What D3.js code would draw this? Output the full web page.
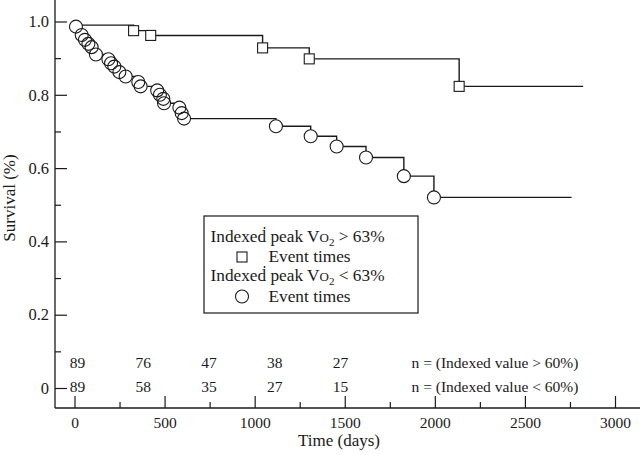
<!DOCTYPE html>
<html>
<head>
<meta charset="utf-8">
<script src="https://cdn.jsdelivr.net/npm/d3@7/dist/d3.min.js"></script>
<style>
  body { margin: 0; background: #fff; }
  svg { display: block; }
  svg text { font-family: "Liberation Serif", "Times New Roman", serif; fill: #1a1a1a; }
</style>
</head>
<body>
<script>
const WIDTH = 640;
const HEIGHT = 455;
const INK = "#1a1a1a";

// Indexed peak VO2 > 63%
const highStart = 0.99;
const highTimes = [328, 423, 1044, 1303, 2135];
const highSurv = [0.975, 0.962, 0.928, 0.898, 0.823];
const highEnd = 2823;

// Indexed peak VO2 < 63%
const lowStart = 1.0;
const lowTimes = [8, 40, 58, 77, 95, 119, 188, 203, 221, 249, 284, 354, 367, 459, 474, 493, 497, 582, 595, 608, 1118, 1311, 1455, 1618, 1828, 1995];
const lowSurv = [0.986, 0.963, 0.95, 0.939, 0.93, 0.91, 0.897, 0.886, 0.877, 0.862, 0.85, 0.835, 0.823, 0.812, 0.8, 0.789, 0.777, 0.765, 0.75, 0.735, 0.714, 0.687, 0.659, 0.629, 0.578, 0.52];
const lowEnd = 2759;

// numbers at risk
const atRiskTimes = [0, 365, 730, 1095, 1460];
const atRiskHigh = [89, 76, 47, 38, 27];
const atRiskLow = [89, 58, 35, 27, 15];

const xTicks = [0, 500, 1000, 1500, 2000, 2500, 3000];
const xMinor = [250, 750, 1250, 1750, 2250, 2750];
const yTicks = [0, 0.2, 0.4, 0.6, 0.8, 1.0];
const yTickLabels = ["0", "0.2", "0.4", "0.6", "0.8", "1.0"];
const yMinor = [0.1, 0.3, 0.5, 0.7, 0.9];

const svg = d3.select("body").append("svg")
  .attr("width", WIDTH)
  .attr("height", HEIGHT);

const x = d3.scaleLinear().domain([0, 3000]).range([74.5, 615]);
const y = d3.scaleLinear().domain([0, 1]).range([388, 21.5]);

const AXIS_X = 55;
const AXIS_Y = 408;

// axis lines
svg.append("line")
  .attr("x1", AXIS_X).attr("x2", AXIS_X)
  .attr("y1", 0).attr("y2", AXIS_Y)
  .attr("stroke", INK).attr("stroke-width", 1.3);
svg.append("line")
  .attr("x1", AXIS_X).attr("x2", WIDTH)
  .attr("y1", AXIS_Y).attr("y2", AXIS_Y)
  .attr("stroke", INK).attr("stroke-width", 1.3);

const styleAxis = (g) => {
  g.attr("font-family", null).attr("font-size", null);
  g.select(".domain").remove();
  g.selectAll("line").attr("stroke", INK).attr("stroke-width", 1.2);
  g.selectAll("text").attr("fill", INK);
};

// x axis
svg.append("g")
  .attr("transform", `translate(0,${AXIS_Y})`)
  .call(d3.axisBottom(x).tickValues(xTicks).tickSize(-12).tickPadding(8.5).tickFormat(d3.format("d")))
  .call(styleAxis)
  .call((g) => g.selectAll("text").attr("font-size", 15.5));
svg.append("g")
  .attr("transform", `translate(0,${AXIS_Y})`)
  .call(d3.axisBottom(x).tickValues(xMinor).tickSize(-6).tickFormat(""))
  .call(styleAxis);

// y axis
svg.append("g")
  .attr("transform", `translate(${AXIS_X},0)`)
  .call(d3.axisLeft(y).tickValues(yTicks).tickSize(-12).tickPadding(6)
    .tickFormat((d, i) => yTickLabels[i]))
  .call(styleAxis)
  .call((g) => g.selectAll("text").attr("font-size", 16.5));
svg.append("g")
  .attr("transform", `translate(${AXIS_X},0)`)
  .call(d3.axisLeft(y).tickValues(yMinor).tickSize(-6).tickFormat(""))
  .call(styleAxis);

// axis titles
svg.append("text")
  .attr("x", 339).attr("y", 446)
  .attr("text-anchor", "middle")
  .attr("font-size", 17)
  .text("Time (days)");
svg.append("text")
  .attr("transform", "translate(15,198) rotate(-90)")
  .attr("text-anchor", "middle")
  .attr("font-size", 17)
  .text("Survival (%)");

// survival curves
const toSteps = (start, times, surv, end) => {
  const pts = [{ t: 0, s: start }];
  times.forEach((t, i) => pts.push({ t, s: surv[i] }));
  pts.push({ t: end, s: surv[surv.length - 1] });
  return pts;
};

const stepLine = d3.line()
  .x((d) => x(d.t))
  .y((d) => y(d.s))
  .curve(d3.curveStepAfter);

const highData = toSteps(highStart, highTimes, highSurv, highEnd);
const lowData = toSteps(lowStart, lowTimes, lowSurv, lowEnd);

[highData, lowData].forEach((d) => {
  svg.append("path")
    .datum(d)
    .attr("d", stepLine)
    .attr("fill", "none")
    .attr("stroke", INK)
    .attr("stroke-width", 1.4);
});

const lowEvents = lowTimes.map((t, i) => ({ t, s: lowSurv[i] }));
const highEvents = highTimes.map((t, i) => ({ t, s: highSurv[i] }));

const CIRCLE_R = 6.5;
const SQ = 10;

// white backgrounds first, then outlines so overlapping rings stay visible
const marks = svg.append("g");
marks.selectAll(".cbg").data(lowEvents).enter().append("circle")
  .attr("cx", (d) => x(d.t)).attr("cy", (d) => y(d.s)).attr("r", CIRCLE_R)
  .attr("fill", "#fff");
marks.selectAll(".sbg").data(highEvents).enter().append("rect")
  .attr("x", (d) => x(d.t) - SQ / 2).attr("y", (d) => y(d.s) - SQ / 2)
  .attr("width", SQ).attr("height", SQ)
  .attr("fill", "#fff");
marks.selectAll(".cfg").data(lowEvents).enter().append("circle")
  .attr("cx", (d) => x(d.t)).attr("cy", (d) => y(d.s)).attr("r", CIRCLE_R)
  .attr("fill", "none").attr("stroke", INK).attr("stroke-width", 1.1);
marks.selectAll(".sfg").data(highEvents).enter().append("rect")
  .attr("x", (d) => x(d.t) - SQ / 2).attr("y", (d) => y(d.s) - SQ / 2)
  .attr("width", SQ).attr("height", SQ)
  .attr("fill", "none").attr("stroke", INK).attr("stroke-width", 1.1);

// numbers at risk
const riskRow = (vals, yy, label) => {
  svg.append("g").selectAll("text").data(vals).enter().append("text")
    .attr("x", (d, i) => x(atRiskTimes[i]) + 3)
    .attr("y", yy)
    .attr("text-anchor", "middle")
    .attr("font-size", 15.5)
    .text((d) => d);
  svg.append("text")
    .attr("x", 411.5).attr("y", yy)
    .attr("font-size", 15.5)
    .text(label);
};
riskRow(atRiskHigh, 368, "n = (Indexed value > 60%)");
riskRow(atRiskLow, 392, "n = (Indexed value < 60%)");

// legend
const legend = svg.append("g");
legend.append("rect")
  .attr("x", 204).attr("y", 216).attr("width", 214).attr("height", 97)
  .attr("fill", "#fff").attr("stroke", INK).attr("stroke-width", 1.2);

const vo2Line = (yy, sign) => {
  const t = legend.append("text").attr("x", 210.5).attr("y", yy).attr("font-size", 17.3);
  t.append("tspan").text("Indexed peak V");
  t.append("tspan").attr("font-size", 13).text("O");
  t.append("tspan").attr("font-size", 11).attr("dy", 4).text("2");
  t.append("tspan").attr("dy", -4).text(` ${sign} 63%`);
  legend.append("circle").attr("cx", 264.5).attr("cy", yy - 14).attr("r", 0.9).attr("fill", INK);
};
vo2Line(242, ">");
vo2Line(281, "<");

legend.append("rect")
  .attr("x", 237).attr("y", 252).attr("width", SQ).attr("height", SQ)
  .attr("fill", "none").attr("stroke", INK).attr("stroke-width", 1.1);
legend.append("text").attr("x", 268.5).attr("y", 262).attr("font-size", 17.3).text("Event times");
legend.append("circle")
  .attr("cx", 242).attr("cy", 296.5).attr("r", CIRCLE_R)
  .attr("fill", "none").attr("stroke", INK).attr("stroke-width", 1.1);
legend.append("text").attr("x", 268.5).attr("y", 302).attr("font-size", 17.3).text("Event times");
</script>
</body>
</html>
